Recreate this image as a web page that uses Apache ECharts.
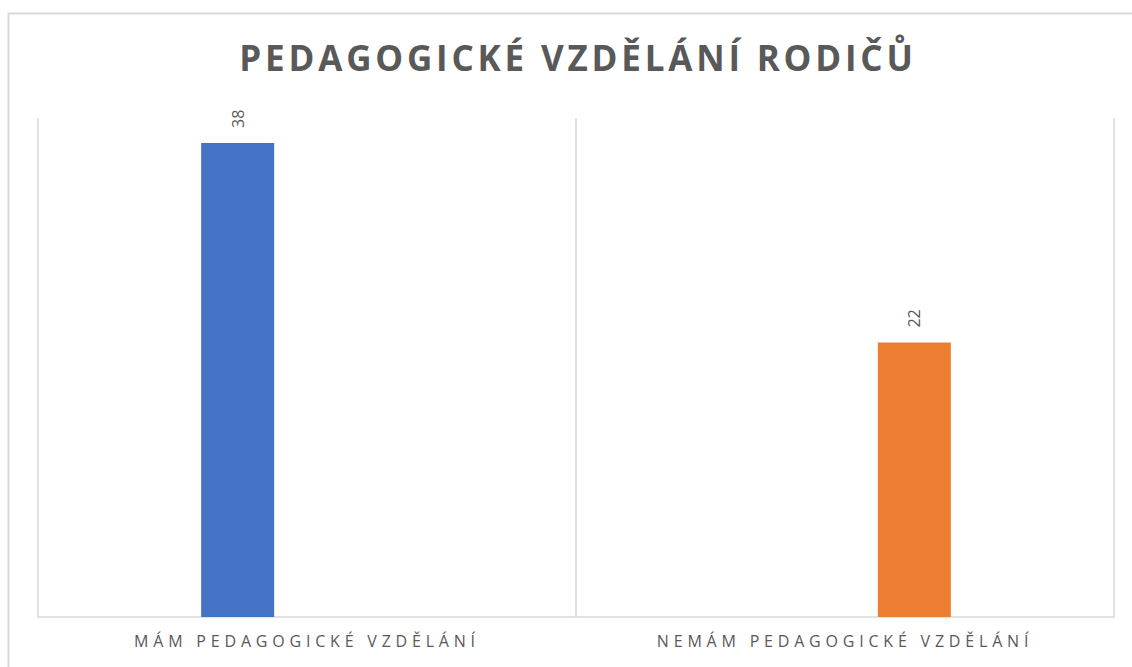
<!DOCTYPE html>
<html>
<head>
<meta charset="utf-8">
<title>Pedagogické vzdělání rodičů</title>
<script src="https://cdn.jsdelivr.net/npm/echarts@6/dist/echarts.min.js"></script>
<style>
    html, body { margin: 0; padding: 0; background: #fff; }
    #rodice { width: 1132px; height: 667px; }
</style>
</head>
<body>
<div id="rodice"></div>
<script>
    // data z grafu
    var nazev = 'PEDAGOGICKÉ VZDĚLÁNÍ RODIČŮ';
    var kategorie = ['MÁM PEDAGOGICKÉ VZDĚLÁNÍ', 'NEMÁM PEDAGOGICKÉ VZDĚLÁNÍ'];
    var mam = [38, '-'];
    var nemam = ['-', 22];
    var osaY = [0, 40];

    var seda = '#595959';
    var mrizka = '#d9d9d9';

    var myChart = echarts.init(document.getElementById('rodice'), null, {renderer: 'svg'});

    // proloženi písmen (echarts letterSpacing nemá, tak se to dopíše do svg)
    myChart.on('finished', function () {
        var texty = document.querySelectorAll('#rodice text');
        for (var i = 0; i < texty.length; i++) {
            var s = texty[i].textContent;
            if (s === nazev) {
                texty[i].setAttribute('letter-spacing', '3.8');
            } else if (kategorie.indexOf(s) > -1) {
                texty[i].setAttribute('letter-spacing', '4.8');
            }
        }
    });

    var popisek = {
        show: true,
        position: 'top',
        rotate: 90,
        align: 'left',
        verticalAlign: 'middle',
        distance: 15,
        color: seda,
        fontFamily: 'Open Sans',
        fontSize: 16
    };

    myChart.setOption({
        animation: false,
        title: {
            text: nazev,
            left: 573,
            textAlign: 'center',
            top: 35,
            textStyle: {
                color: seda,
                fontFamily: 'Open Sans',
                fontWeight: 'bold',
                fontSize: 35
            }
        },
        graphic: [{
            type: 'rect',
            silent: true,
            shape: {x: 8.5, y: 13.5, width: 1200, height: 700},
            style: {fill: 'none', stroke: mrizka, lineWidth: 2}
        }],
        grid: {
            left: 38,
            right: 18,
            top: 118,
            bottom: 50
        },
        xAxis: {
            type: 'category',
            data: kategorie,
            axisTick: {show: false},
            axisLine: {lineStyle: {color: mrizka, width: 1.5}},
            splitLine: {
                show: true,
                showMinLine: true,
                showMaxLine: true,
                lineStyle: {color: mrizka, width: 1.5}
            },
            axisLabel: {
                margin: 16,
                color: seda,
                fontFamily: 'Open Sans',
                fontSize: 16
            }
        },
        yAxis: {
            type: 'value',
            min: osaY[0],
            max: osaY[1],
            show: false,
            splitLine: {show: false}
        },
        series: [{
            name: 'mám',
            type: 'bar',
            data: mam,
            barWidth: 73,
            barGap: '90%',
            itemStyle: {color: '#4472c4'},
            label: popisek
        }, {
            name: 'nemám',
            type: 'bar',
            data: nemam,
            barWidth: 73,
            barGap: '90%',
            itemStyle: {color: '#ed7d31'},
            label: popisek
        }]
    });
</script>
</body>
</html>
